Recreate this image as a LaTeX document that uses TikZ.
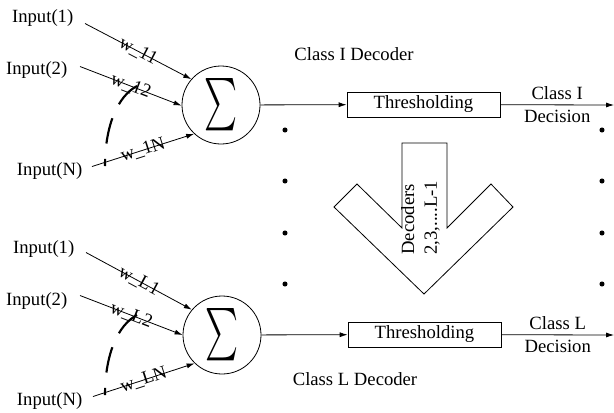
\documentclass[tikz,border=0pt]{standalone}
\usepackage{fontspec}
\setmainfont{Liberation Serif}
\usetikzlibrary{arrows.meta,positioning}

\begin{document}
\begin{tikzpicture}[x=0.75pt,y=-0.75pt,font=\fontsize{14}{17}\selectfont,line width=0.6pt]
\tikzstyle{inp}=[inner sep=1pt,anchor=base east]
\tikzstyle{sumnode}=[circle,draw,minimum size=58.5pt,inner sep=0pt]
\tikzstyle{thr}=[draw,minimum width=114.75pt,minimum height=18.75pt,inner sep=0pt]
\tikzstyle{wire}=[-{Latex[length=6pt,width=3.8pt]}]
\tikzstyle{wlab}=[sloped,inner sep=0pt]
\tikzstyle{gap}=[line width=1.6pt,dash pattern=on 19.5pt off 11.6pt]
\tikzstyle{dot}=[circle,fill,inner sep=0pt,minimum size=3.8pt]
\useasboundingbox (0,0) rectangle (614,412);
% class I decoder
\node [inp] (i11) at (75,22) {Input(1)};
\node [inp] (i12) at (69,74) {Input(2)};
\node [inp] (i1N) at (84,175) {Input(N)};
\node [sumnode] (s1) at (221,105) {\resizebox{24.75pt}{33.75pt}{$\sum$}};
\node [thr] (t1) at (423.5,104.5) {Thresholding};
\node [anchor=base] (c1) at (354,60) {Class I Decoder};
\coordinate (o1) at (614,105);
\draw [wire] ([shift={(10,6)}]i11.east) -- node[wlab]{w\_11} (s1.139);
\draw [wire] ([shift={(11,-3)}]i12.east) -- node[wlab]{w\_12} (s1.181);
\draw [wire] ([shift={(8,-4)}]i1N.east) -- node[wlab]{w\_1N} (s1.227);
\draw [gap] (137,86) .. controls (118,96) and (105,125) .. (105,166);
\draw [wire] (s1) -- (t1);
\draw [wire] (t1) -- node[above]{Class I} node[below]{Decision} (o1);
% class L decoder
\node [inp] (iL1) at (76,253) {Input(1)};
\node [inp] (iL2) at (69,305) {Input(2)};
\node [inp] (iLN) at (84,405) {Input(N)};
\node [sumnode] (sL) at (222,335) {\resizebox{24.75pt}{33.75pt}{$\sum$}};
\node [thr] (tL) at (424.5,334.5) {Thresholding};
\node [anchor=base] (cL) at (355,385) {Class L Decoder};
\coordinate (oL) at (614,335);
\draw [wire] ([shift={(10,4)}]iL1.east) -- node[wlab]{w\_L1} (sL.140);
\draw [wire] ([shift={(11,-5)}]iL2.east) -- node[wlab]{w\_L2} (sL.180);
\draw [wire] ([shift={(9,-4)}]iLN.east) -- node[wlab]{w\_LN} (sL.226);
\draw [gap] (137,315) .. controls (118,325) and (105,354) .. (105,395);
\draw [wire] (sL) -- (tL);
\draw [wire] (tL) -- node[above]{Class L} node[below]{Decision} (oL);
% decoders in between
\node [dot] (dl1) at (285,130) {};
\node [dot] (dl2) at (285,181) {};
\node [dot] (dl3) at (285,233) {};
\node [dot] (dl4) at (285,284) {};
\node [dot] (dr1) at (602,130) {};
\node [dot] (dr2) at (602,181) {};
\node [dot] (dr3) at (602,233) {};
\node [dot] (dr4) at (602,284) {};
\draw (402,143) -- (447,143) -- (447,228) -- (491,184) -- (513,207) -- (424,294)
  -- (334,207) -- (357,184) -- (402,228) -- cycle;
\node [rotate=90,align=left,anchor=west,inner sep=0pt] (dec) at (420.5,255) {Decoders\\2,3,....L-1};
\end{tikzpicture}
\end{document}
